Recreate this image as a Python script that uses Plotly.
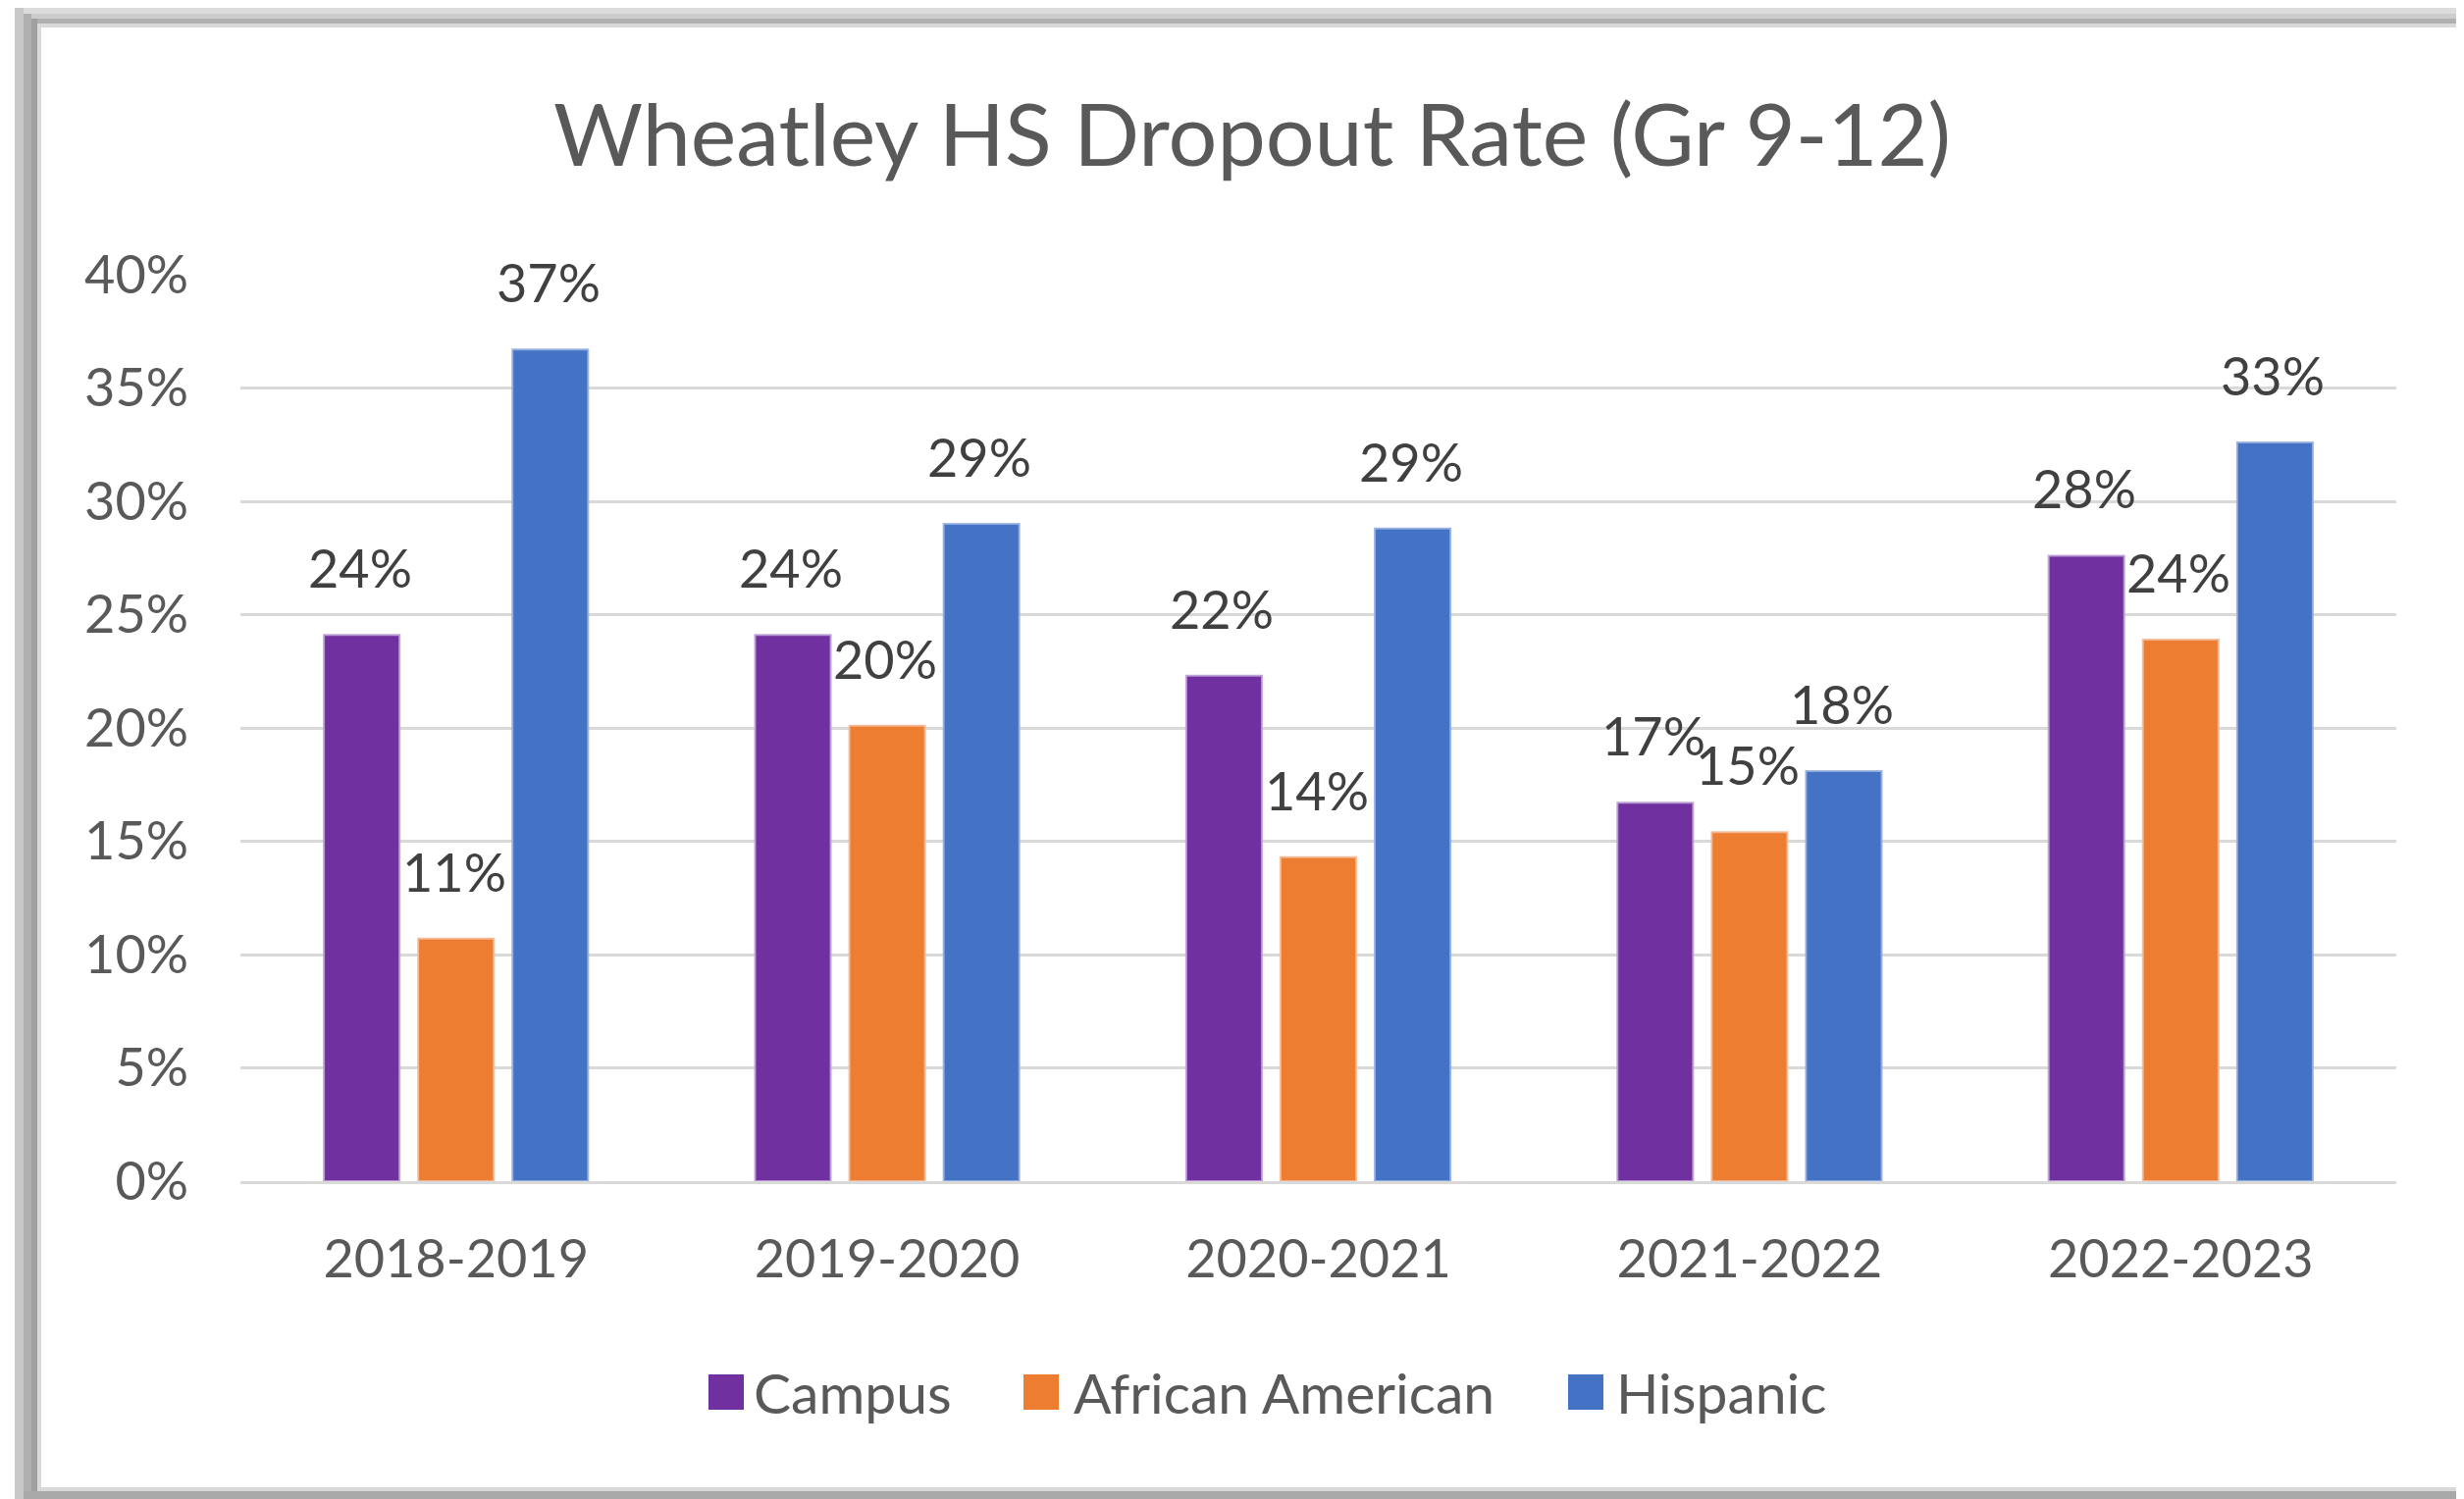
import plotly.graph_objects as go

# ---------------- data ----------------
categories = ["2018-2019", "2019-2020", "2020-2021", "2021-2022", "2022-2023"]
series_names = ["Campus", "African American", "Hispanic"]
campus = [24.1, 24.1, 22.3, 16.7, 27.6]
african_american = [10.7, 20.1, 14.3, 15.4, 23.9]
hispanic = [36.7, 29.0, 28.8, 18.1, 32.6]
y_ticks = [0, 5, 10, 15, 20, 25, 30, 35, 40]
title_text = "Wheatley HS Dropout Rate (Gr 9-12)"

# ---------------- styles / layout constants ----------------
colors = ["#7030A0", "#ED7D31", "#4472C4"]
edge_colors = ["rgba(190,160,215,0.9)", "rgba(245,185,150,0.9)", "rgba(150,175,225,0.9)"]
FONT = "Lato, 'Open Sans', sans-serif"
TXT = "#595959"
OFF = 8  # page body margin offset
FIG_W, FIG_H = 2511 - OFF, 1528 - OFF
L, R_px, T_px, B_px = 245 - OFF, 2442 - OFF, 280 - OFF, 1204 - OFF
PW, PH = R_px - L, B_px - T_px
BARGAP, GROUPGAP = 0.344, 0.198


def pxx(px):
    """screen x (reference coordinates) -> paper"""
    return (px - OFF - L) / PW


def pxy(py):
    """screen y (reference coordinates) -> paper"""
    return (B_px - (py - OFF)) / PH


series_values = [campus, african_american, hispanic]

fig = go.Figure()
for name, vals, col, ecol in zip(series_names, series_values, colors, edge_colors):
    fig.add_trace(go.Bar(
        x=categories,
        y=[v / 100 for v in vals],
        name=name,
        marker=dict(color=col, line=dict(color=ecol, width=2)),
        hoverinfo="x+y+name",
    ))

# data labels
cat_w = PW / len(categories)
slot = cat_w * (1 - BARGAP) / len(series_names)
annotations = []
for i, vals in enumerate(series_values):
    for c, v in zip(categories, vals):
        annotations.append(dict(
            x=c, y=v / 100, xref="x", yref="y",
            text=f"{round(v)}%", showarrow=False,
            xanchor="center", yanchor="bottom",
            xshift=(i - 1) * slot - 2, yshift=34,
            font=dict(family=FONT, size=54, color="#404040"),
        ))

# custom legend (large square swatches like the original)
leg_sq_x = [722, 1043, 1598]
leg_txt_x = [766, 1092, 1645]
leg_cy = 1419
sq = 36
shapes = []
for name, col, sx, tx in zip(series_names, colors, leg_sq_x, leg_txt_x):
    shapes.append(dict(type="rect", xref="paper", yref="paper",
                       x0=pxx(sx), x1=pxx(sx + sq), y0=pxy(leg_cy + sq / 2), y1=pxy(leg_cy - sq / 2),
                       fillcolor=col, line=dict(width=0)))
    annotations.append(dict(x=pxx(tx), y=pxy(leg_cy), xref="paper", yref="paper",
                            text=name, showarrow=False, xanchor="left", yanchor="middle",
                            font=dict(family=FONT, size=57, color=TXT)))

# outer frame (grey bevel like the screenshot)
frame = [
    # left band
    (15, 0, 24, 1528, "#c8c8c8"),
    (24, 0, 32, 1528, "#b0b0b0"),
    (32, 0, 38, 1528, "#a0a0a0"),
    (38, 24, 42, 1518, "#d9d9d9"),
    # top band
    (15, 0, 2511, 6, "#e8e8e8"),
    (24, 6, 2511, 14, "#dcdcdc"),
    (32, 14, 2511, 19, "#cccccc"),
    (38, 19, 2511, 24, "#b0b0b0"),
    (42, 24, 2511, 28, "#d9d9d9"),
    # bottom band
    (38, 1516, 2511, 1520, "#d9d9d9"),
    (24, 1520, 2511, 1528, "#a8a8a8"),
]
for x0, y0, x1, y1, c in frame:
    shapes.append(dict(type="rect", xref="paper", yref="paper",
                       x0=pxx(x0), x1=pxx(x1), y0=pxy(y1), y1=pxy(y0),
                       fillcolor=c, line=dict(width=0), layer="below"))

fig.update_layout(
    width=FIG_W, height=FIG_H,
    margin=dict(l=L, r=FIG_W - R_px, t=T_px, b=FIG_H - B_px, pad=0),
    paper_bgcolor="white", plot_bgcolor="white",
    barmode="group", bargap=BARGAP, bargroupgap=GROUPGAP,
    showlegend=False,
    title=dict(text=title_text, x=(1276 - OFF) / FIG_W, xanchor="center",
               y=1 - (138 - OFF) / FIG_H, yanchor="middle", yref="container",
               font=dict(family=FONT, size=88, color=TXT)),
    font=dict(family=FONT, color=TXT),
    annotations=annotations,
    shapes=shapes,
)
fig.update_yaxes(
    range=[0, 0.40], tickvals=[t / 100 for t in y_ticks], tickformat=".0%",
    showgrid=True, gridcolor="#d9d9d9", gridwidth=3,
    zeroline=False, showline=False, ticks="",
    ticklabelstandoff=52,
    tickfont=dict(family=FONT, size=54, color=TXT),
)
fig.update_xaxes(
    showgrid=False, showline=True, linecolor="#d9d9d9", linewidth=3,
    ticks="", ticklabelstandoff=30,
    tickfont=dict(family=FONT, size=54, color=TXT),
)

fig.write_html("out.html")
